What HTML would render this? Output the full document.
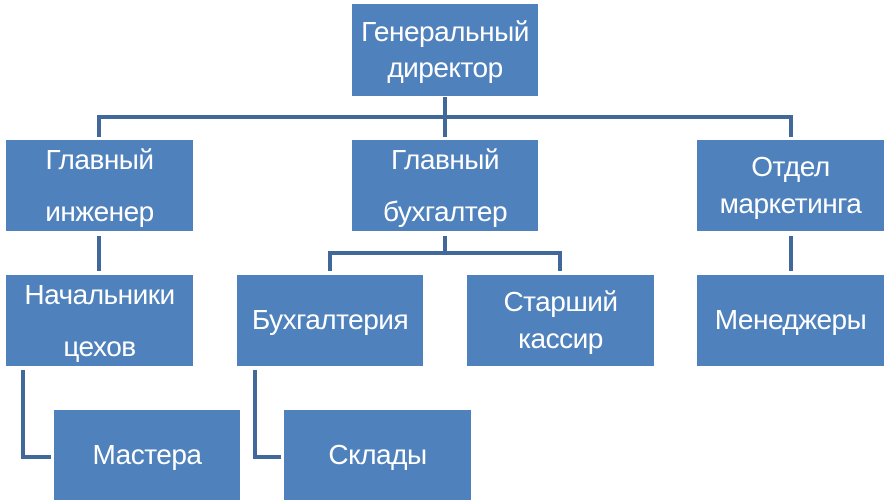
<!DOCTYPE html>
<html><head><meta charset="utf-8"><style>
body{margin:0;width:891px;height:504px;background:#fff;position:relative;overflow:hidden;font-family:"Liberation Sans",sans-serif}
.b{position:absolute;background:#4f81bd;color:#fff;font-size:28px;display:flex;align-items:center;justify-content:center;text-align:center;line-height:1.3;letter-spacing:-0.5px}
.l{position:absolute;background:#41689a}
</style></head><body>
<div class="l" style="left:443px;top:97px;width:4px;height:40px"></div>
<div class="l" style="left:97px;top:115px;width:696px;height:4px"></div>
<div class="l" style="left:97px;top:115px;width:4px;height:22px"></div>
<div class="l" style="left:789px;top:115px;width:4px;height:22px"></div>
<div class="l" style="left:97px;top:236px;width:4px;height:35px"></div>
<div class="l" style="left:789px;top:236px;width:4px;height:35px"></div>
<div class="l" style="left:443px;top:236px;width:4px;height:18px"></div>
<div class="l" style="left:328px;top:251px;width:234px;height:4px"></div>
<div class="l" style="left:328px;top:251px;width:4px;height:20px"></div>
<div class="l" style="left:558px;top:251px;width:4px;height:20px"></div>
<div class="l" style="left:21px;top:370px;width:4px;height:89px"></div>
<div class="l" style="left:21px;top:455px;width:30px;height:4px"></div>
<div class="l" style="left:253px;top:370px;width:4px;height:89px"></div>
<div class="l" style="left:253px;top:455px;width:28px;height:4px"></div>

<div class="b" style="left:352px;top:4px;width:186px;height:92px">Генеральный<br>директор</div>
<div class="b" style="left:6px;top:140px;width:187px;height:91px;line-height:1.85">Главный<br>инженер</div>
<div class="b" style="left:352px;top:140px;width:186px;height:91px;line-height:1.85">Главный<br>бухгалтер</div>
<div class="b" style="left:697px;top:140px;width:187px;height:91px">Отдел<br>маркетинга</div>
<div class="b" style="left:6px;top:275px;width:187px;height:91px;line-height:1.85">Начальники<br>цехов</div>
<div class="b" style="left:237px;top:275px;width:186px;height:91px">Бухгалтерия</div>
<div class="b" style="left:467px;top:275px;width:187px;height:91px">Старший<br>кассир</div>
<div class="b" style="left:697px;top:275px;width:187px;height:91px">Менеджеры</div>
<div class="b" style="left:54px;top:410px;width:186px;height:90px">Мастера</div>
<div class="b" style="left:284px;top:410px;width:187px;height:90px">Склады</div>
</body></html>
